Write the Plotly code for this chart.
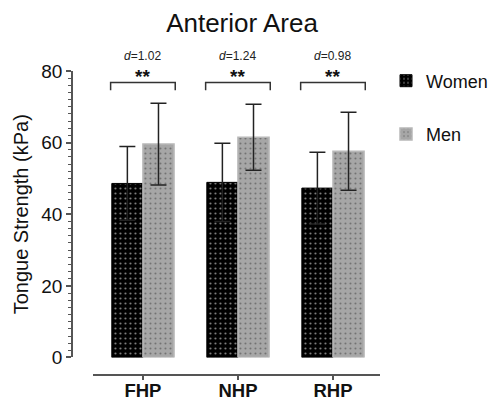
import plotly.graph_objects as go

categories = ["FHP", "NHP", "RHP"]
women = [48.6, 48.9, 47.3]
women_sd = [10.3, 10.9, 10.0]
men = [59.6, 61.5, 57.6]
men_sd = [11.4, 9.2, 10.9]
effect_d = ["1.02", "1.24", "0.98"]
signif = ["**", "**", "**"]
bracket_y = [76.8, 76.8, 76.8]
y_ticks = [0, 20, 40, 60, 80]

FONT = "Liberation Sans, Arial, sans-serif"
xpos = list(range(len(categories)))

fig = go.Figure()
fig.add_trace(go.Bar(
    x=xpos, y=women, name="Women", legendgroup="w",
    marker=dict(color="#000000", line=dict(color="#000000", width=1),
                pattern=dict(shape=".", fgcolor="#ffffff", bgcolor="#000000",
                             size=5, solidity=0.15)),
    error_y=dict(type="data", array=women_sd, visible=True,
                 color="#222222", thickness=1.5, width=8),
))
fig.add_trace(go.Bar(
    x=xpos, y=men, name="Men", legendgroup="m",
    marker=dict(color="#a6a6a6", line=dict(color="#b8b8b8", width=1.5),
                pattern=dict(shape=".", fgcolor="#3a3a3a", bgcolor="#a6a6a6",
                             size=5, solidity=0.13)),
    error_y=dict(type="data", array=men_sd, visible=True,
                 color="#222222", thickness=1.5, width=8),
))

shapes = []
annotations = []
for i, (by, d, s) in enumerate(zip(bracket_y, effect_d, signif)):
    shapes.append(dict(
        type="path", xref="x", yref="y",
        path=f"M {i-0.34},{by-2.2} L {i-0.34},{by} L {i+0.34},{by} L {i+0.34},{by-2.2}",
        line=dict(color="#333333", width=1.5),
    ))
    annotations.append(dict(
        x=i, y=by, xref="x", yref="y", text=f"<b>{s}</b>", yshift=6,
        showarrow=False, font=dict(family=FONT, size=19, color="#111111"),
        yanchor="middle",
    ))
    annotations.append(dict(
        x=i, y=by, xref="x", yref="y", text=f"<i>d</i>={d}", yshift=26,
        showarrow=False, font=dict(family=FONT, size=12, color="#222222"),
        yanchor="middle",
    ))

fig.update_layout(
    width=485, height=389,
    margin=dict(l=64, r=113, t=63, b=22, autoexpand=False),
    paper_bgcolor="white", plot_bgcolor="white",
    font=dict(family=FONT, color="#111111"),
    barmode="group", bargap=0.345, bargroupgap=0,
    title=dict(text="Anterior Area", x=0.4825, xref="container", xanchor="center",
               y=0.9614, yref="container", yanchor="middle",
               font=dict(family=FONT, size=26, color="#111111")),
    showlegend=True,
    legend=dict(x=1.0, xref="container", xanchor="right",
                y=1.028, yanchor="top",
                font=dict(family=FONT, size=18, color="#111111"),
                tracegroupgap=27, bgcolor="rgba(0,0,0,0)"),
    shapes=shapes, annotations=annotations,
    xaxis=dict(
        domain=[0.068, 1], range=[-0.526, 2.495], anchor="free", position=0,
        tickmode="array", tickvals=xpos, ticktext=categories, automargin=False,
        showline=True, linecolor="#555555", linewidth=1.5,
        ticks="outside", ticklen=4, tickcolor="#555555", tickwidth=1.5,
        ticklabelstandoff=-5,
        tickfont=dict(family=FONT, size=18.5, color="#111111", weight="bold"),
        showgrid=False, zeroline=False, fixedrange=True,
    ),
    yaxis=dict(
        domain=[0.0576, 1], range=[0, 80], anchor="free", position=0,
        tickmode="array", tickvals=y_ticks, automargin=False,
        showline=True, linecolor="#555555", linewidth=1.5,
        ticks="outside", ticklen=5, tickcolor="#555555", tickwidth=1.5,
        minor=dict(dtick=2, ticks="outside", ticklen=3, tickcolor="#555555", tickwidth=1),
        tickfont=dict(family=FONT, size=19, color="#111111"),
        title=dict(text="Tongue Strength (kPa)", standoff=6,
                   font=dict(family=FONT, size=20, color="#111111")),
        showgrid=False, zeroline=False, fixedrange=True,
    ),
)

fig.write_html("out.html")
